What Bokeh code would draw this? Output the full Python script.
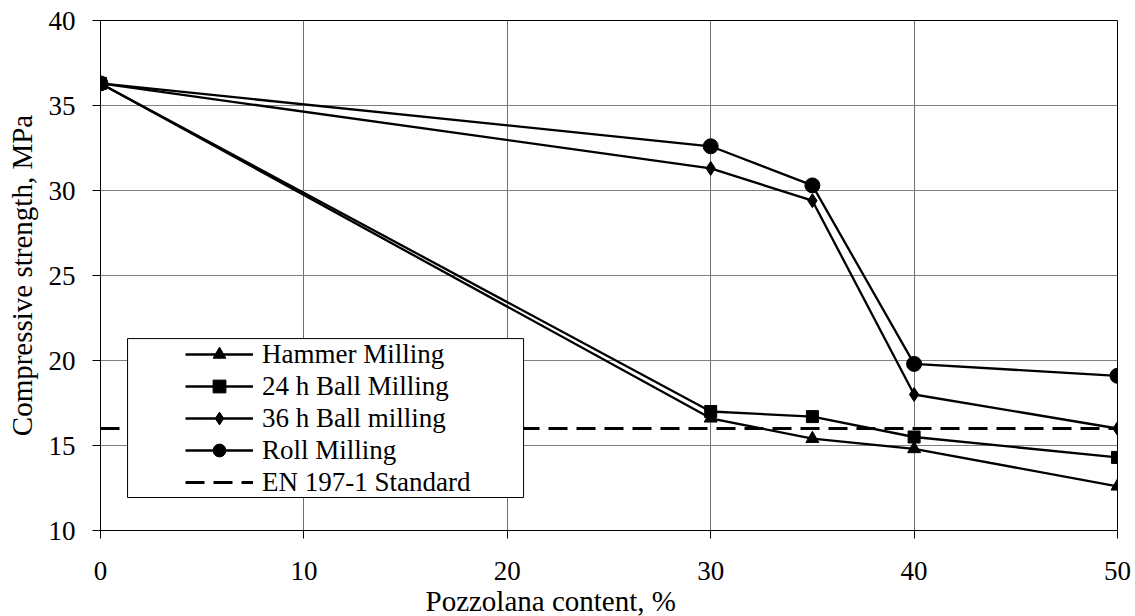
from bokeh.plotting import figure
from bokeh.models import (Range1d, FixedTicker, Legend, LegendItem, BoxAnnotation, Title)
from bokeh.embed import file_html
from bokeh.resources import INLINE

# ---- data ----
pozzolana = [0, 30, 35, 40, 50]
hammer = [36.3, 16.6, 15.4, 14.8, 12.6]
ball24 = [36.3, 17.0, 16.7, 15.5, 14.3]
ball36 = [36.3, 31.3, 29.4, 18.0, 16.0]
roll = [36.3, 32.6, 30.3, 19.8, 19.1]
en_x = [0, 50]
en_y = [16, 16]
x_ticks = [0, 10, 20, 30, 40, 50]
y_ticks = [10, 15, 20, 25, 30, 35, 40]
series_names = ["Hammer Milling", "24 h Ball Milling", "36 h Ball milling",
                "Roll Milling", "EN 197-1 Standard"]

FONT = "Liberation Serif"

p = figure(width=1135, height=616, output_backend="svg", toolbar_location=None,
           x_range=Range1d(0, 50), y_range=Range1d(10, 40),
           min_border_left=100, min_border_right=18, min_border_top=20,
           min_border_bottom=86)
p.background_fill_color = "white"
p.border_fill_color = "white"
p.outline_line_color = "black"
p.outline_line_width = 1

for ax in (p.xaxis[0], p.yaxis[0]):
    ax.major_label_text_font = FONT
    ax.major_label_text_font_size = "27px"
    ax.major_label_text_color = "black"
    ax.axis_line_color = "black"
    ax.axis_line_width = 1
    ax.major_tick_line_color = "black"
    ax.major_tick_out = 8
    ax.major_tick_in = 0
    ax.minor_tick_out = 0
    ax.minor_tick_in = 0

p.xaxis.ticker = FixedTicker(ticks=x_ticks)
p.yaxis.ticker = FixedTicker(ticks=y_ticks)
p.yaxis.major_label_standoff = 17
p.xaxis.major_label_standoff = 23

p.yaxis.axis_label = "Compressive strength, MPa"
p.yaxis.axis_label_text_font = FONT
p.yaxis.axis_label_text_font_size = "29px"
p.yaxis.axis_label_text_font_style = "normal"
p.yaxis.axis_label_text_color = "black"
p.yaxis.axis_label_standoff = 8

xt = Title(text="Pozzolana content, %", align="left", offset=325,
           text_font=FONT, text_font_size="29px", text_font_style="normal",
           text_color="black", standoff=0)
p.add_layout(xt, "below")

p.xgrid.grid_line_color = "#6f6f6f"
p.ygrid.grid_line_color = "#808080"
p.xgrid.grid_line_width = 1
p.ygrid.grid_line_width = 1

lw = 2.3
en = p.line(en_x, en_y, line_color="black", line_width=3, line_dash="19 9")

l1 = p.line(pozzolana, hammer, line_color="black", line_width=lw)
m1 = p.scatter(pozzolana, hammer, marker="triangle", size=13, color="black")
l2 = p.line(pozzolana, ball24, line_color="black", line_width=lw)
m2 = p.scatter(pozzolana, ball24, marker="square", size=12, color="black")
l3 = p.line(pozzolana, ball36, line_color="black", line_width=lw)
m3 = p.scatter(pozzolana, ball36, marker="diamond", size=14, color="black")
l4 = p.line(pozzolana, roll, line_color="black", line_width=lw)
m4 = p.scatter(pozzolana, roll, marker="circle", size=15, color="black")

box = BoxAnnotation(left=1.33, right=20.8, bottom=11.94, top=21.29,
                    fill_color="white", fill_alpha=1.0,
                    line_color="black", line_width=1, line_alpha=1.0)
p.add_layout(box)

items = [
    LegendItem(label=series_names[0], renderers=[l1, m1]),
    LegendItem(label=series_names[1], renderers=[l2, m2]),
    LegendItem(label=series_names[2], renderers=[l3, m3]),
    LegendItem(label=series_names[3], renderers=[l4, m4]),
    LegendItem(label=series_names[4], renderers=[en]),
]
legend = Legend(items=items, location=(85, 32), padding=0, margin=0, spacing=0,
                glyph_width=68, glyph_height=32, label_height=32, label_standoff=9,
                label_text_font=FONT, label_text_font_size="27px",
                label_text_color="black",
                background_fill_alpha=0, border_line_alpha=0)
p.add_layout(legend)

open("out.html", "w").write(file_html(p, INLINE))
